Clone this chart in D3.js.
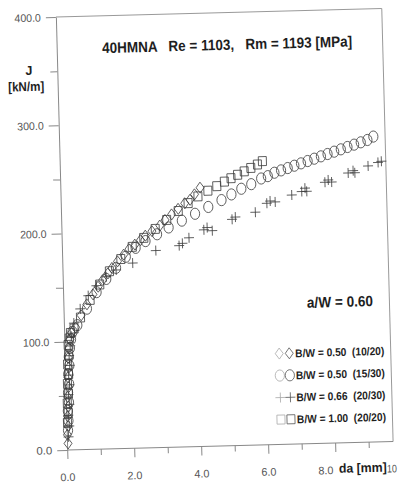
<!DOCTYPE html>
<html>
<head>
<meta charset="utf-8">
<script src="https://cdn.jsdelivr.net/npm/d3@7"></script>
<style>
body { margin: 0; background: #fff; }
text { font-family: "Liberation Sans", Arial, sans-serif; }
</style>
</head>
<body>
<svg id="chart" width="401" height="490"></svg>
<script>
// values
const daTicks = [0, 2, 4, 6, 8, 10];
const daTickLabels = ["0.0", "2.0", "4.0", "6.0", "8.0", "10"];
const jTicks = [0, 100, 200, 300, 400];
const jTickLabels = ["0.0", "100.0", "200.0", "300.0", "400.0"];

const seriesLabels = ["B/W = 0.50  (10/20)", "B/W = 0.50  (15/30)", "B/W = 0.66  (20/30)", "B/W = 1.00  (20/20)"];
const seriesShapes = ["diamond", "circle", "plus", "square"];

// B/W = 0.50 (10/20)
const diamondDa = [0.03, 0.02, 0.05, 0.04, 0.07, 0.05, 0.09, 0.08, 0.11, 0.10, 0.14, 0.17, 0.22,
  0.35, 0.52, 0.70, 0.89, 1.05, 1.19, 1.35, 1.48, 1.65, 1.84, 2.00, 2.18, 2.35, 2.50, 2.70, 2.94, 3.10, 3.30, 3.50, 3.70, 3.86, 4.00, 4.17];
const diamondJ = [6, 14, 22, 31, 40, 49, 58, 67, 76, 85, 94, 102, 108,
  113, 124, 134, 143, 150, 156, 162, 167, 173, 179, 184, 188, 192, 196, 200, 205, 210, 215, 220, 225, 228, 233, 239];

// B/W = 0.50 (15/30)
const circleDa = [0.04, 0.06, 0.05, 0.09, 0.07, 0.11, 0.09, 0.13, 0.12, 0.16, 0.20, 0.25,
  0.40, 0.70, 1.00, 1.30, 1.60, 1.90, 2.20, 2.50, 2.85, 3.20, 3.60, 4.00, 4.40, 4.80, 5.10, 5.40, 5.70, 6.00, 6.20, 6.40, 6.60, 6.80, 7.00, 7.20, 7.40, 7.60, 7.80, 8.00, 8.20, 8.40, 8.60, 8.80, 9.00, 9.20, 9.38];
const circleJ = [18, 27, 36, 44, 53, 61, 70, 78, 86, 94, 102, 109,
  115, 130, 145, 157, 167, 177, 185, 191, 197, 203, 209, 215, 221, 227, 232, 237, 241, 246, 248, 251, 253, 255, 257, 259, 261, 263, 265, 267, 269, 271, 273, 275, 277, 279, 282];

// B/W = 0.66 (20/30)
const plusDa = [0.05, 0.08, 0.06, 0.10, 0.08, 0.12, 0.10, 0.14, 0.13, 0.17, 0.21,
  0.30, 0.50, 0.75, 1.00, 1.30, 1.60, 2.10, 2.80, 3.50, 3.60, 3.80, 4.25, 4.35, 4.50, 5.10, 5.20, 5.80, 6.15, 6.25, 6.40, 6.90, 7.20, 7.30, 7.35, 7.90, 8.00, 8.10, 8.60, 8.75, 8.80, 9.20, 9.50, 9.60];
const plusJ = [12, 22, 32, 42, 51, 60, 69, 78, 87, 96, 105,
  117, 130, 142, 151, 159, 165, 171, 182, 186, 188, 193, 200, 202, 199, 209, 211, 215, 223, 225, 224, 230, 233, 236, 233, 241, 243, 241, 249, 251, 249, 255, 258, 259];

// B/W = 1.00 (20/20)
const squareDa = [0.03, 0.06, 0.04, 0.08, 0.06, 0.10, 0.08, 0.12, 0.11, 0.15, 0.19,
  0.30, 0.50, 0.80, 1.10, 1.40, 1.75, 2.10, 2.45, 2.80, 3.15, 3.50, 3.80, 4.10, 4.40, 4.67, 4.90, 5.10, 5.30, 5.50, 5.70, 5.90, 6.05];
const squareJ = [25, 34, 43, 52, 61, 70, 79, 88, 97, 103, 108,
  112, 122, 138, 152, 164, 175, 186, 194, 202, 210, 218, 225, 231, 236, 240, 244, 247, 250, 253, 256, 259, 262];

const seriesDa = [diamondDa, circleDa, plusDa, squareDa];
const seriesJ = [diamondJ, circleJ, plusJ, squareJ];

const svg = d3.select("#chart");
// the original is a slightly skewed scan
const g = svg.append("g").attr("transform", "rotate(-1.5,223,230)");

const x = d3.scaleLinear().domain([0, 10]).range([61.5, 396.5]);
const y = d3.scaleLinear().domain([0, 400]).range([445.8, 12.8]);
const frameRight = 387.5;

// narrow bold labels, squeezed to the widths seen in the scan
function label(px, py, str, size, width, anchor) {
  return g.append("text").attr("x", px).attr("y", py)
    .attr("text-anchor", anchor || "start")
    .style("white-space", "pre")
    .attr("font-size", size).attr("font-weight", "bold").attr("fill", "#1e1e1e")
    .attr("textLength", width).attr("lengthAdjust", "spacingAndGlyphs")
    .text(str);
}

// frame
g.append("line").attr("x1", x(0)).attr("x2", frameRight).attr("y1", y(400)).attr("y2", y(400))
  .attr("stroke", "#999").attr("stroke-width", 1);
g.append("line").attr("x1", frameRight).attr("x2", frameRight).attr("y1", y(400)).attr("y2", y(0))
  .attr("stroke", "#999").attr("stroke-width", 1);

// y axis
const yAxis = g.append("g").attr("transform", "translate(" + x(0) + ",0)")
  .call(d3.axisLeft(y).tickValues(d3.range(0, 401, 50)).tickSize(0).tickFormat(""));
yAxis.select(".domain").attr("stroke", "#888");
yAxis.selectAll(".tick line").attr("x2", function(d) { return d % 100 === 0 ? -10 : -7; }).attr("stroke", "#888");
g.selectAll(".ylab").data(jTicks).enter().append("text")
  .attr("class", "ylab")
  .attr("x", x(0) - 15).attr("y", function(d) { return y(d) + 4; })
  .attr("text-anchor", "end").attr("font-size", 11).attr("fill", "#555")
  .attr("textLength", function(d, i) { return jTickLabels[i].length * 5.3; })
  .attr("lengthAdjust", "spacingAndGlyphs")
  .text(function(d, i) { return jTickLabels[i]; });

// x axis
const xAxis = g.append("g").attr("transform", "translate(0," + y(0) + ")")
  .call(d3.axisBottom(x).tickValues(d3.range(0, 10, 1)).tickSize(0).tickFormat(""));
xAxis.select(".domain").attr("stroke", "#888").attr("d", "M" + x(0) + ",0H" + frameRight);
xAxis.selectAll(".tick line").attr("y2", function(d) { return d % 2 === 0 ? 9 : 6; }).attr("stroke", "#888");
g.selectAll(".xlab").data(daTicks).enter().append("text")
  .attr("class", "xlab")
  .attr("x", function(d) { return d === 8 ? x(d) - 10 : (d === 10 ? x(d) - 11 : x(d)); })
  .attr("y", y(0) + 31)
  .attr("text-anchor", "middle").attr("font-size", 11).attr("fill", "#555")
  .attr("textLength", function(d, i) { return daTickLabels[i].length * 5; })
  .attr("lengthAdjust", "spacingAndGlyphs")
  .text(function(d, i) { return daTickLabels[i]; });
label(x(8) + 3, y(0) + 30, "da [mm]", 13, 48);

// axis title
label(33, 70, "J", 13, 7, "middle");
label(30, 86, "[kN/m]", 13, 36, "middle");

// chart title and note
label(107, 50, "40HMNA   Re = 1103,   Rm = 1193 [MPa]", 15, 250);
label(305, 310, "a/W = 0.60", 15, 66);

function drawMark(sel, shape, stroke) {
  if (shape === "circle") {
    sel.append("ellipse").attr("rx", 4.6).attr("ry", 5.6)
      .attr("fill", "none").attr("stroke", stroke).attr("stroke-width", 0.8);
  } else if (shape === "diamond") {
    sel.append("path").attr("d", "M0,-5.5L4,0L0,5.5L-4,0Z")
      .attr("fill", "none").attr("stroke", stroke).attr("stroke-width", 0.8);
  } else if (shape === "square") {
    sel.append("rect").attr("x", -4).attr("y", -4.5).attr("width", 8).attr("height", 9)
      .attr("fill", "none").attr("stroke", stroke).attr("stroke-width", 0.8);
  } else {
    sel.append("path").attr("d", "M-5,0H5M0,-5V5")
      .attr("fill", "none").attr("stroke", stroke).attr("stroke-width", 0.8);
  }
}

// data
seriesShapes.forEach(function(shape, s) {
  const pts = seriesDa[s].map(function(d, i) { return [d, seriesJ[s][i]]; });
  g.append("g").selectAll("g").data(pts).enter().append("g")
    .attr("transform", function(d) { return "translate(" + x(d[0]) + "," + y(d[1]) + ")"; })
    .each(function() { drawMark(d3.select(this), shape, "#3a3a3a"); });
});

// legend
const legendY = [359, 381, 403, 425];
seriesLabels.forEach(function(lab, i) {
  const row = g.append("g").attr("transform", "translate(0," + legendY[i] + ")");
  drawMark(row.append("g").attr("transform", "translate(276,-4)"), seriesShapes[i], "#aaa");
  drawMark(row.append("g").attr("transform", "translate(286,-4)"), seriesShapes[i], "#555");
  row.append("text").attr("x", 292).attr("y", 0).style("white-space", "pre")
    .attr("font-size", 11.2).attr("font-weight", "bold").attr("fill", "#1e1e1e")
    .attr("textLength", 89).attr("lengthAdjust", "spacingAndGlyphs")
    .text(lab);
});
</script>
</body>
</html>
